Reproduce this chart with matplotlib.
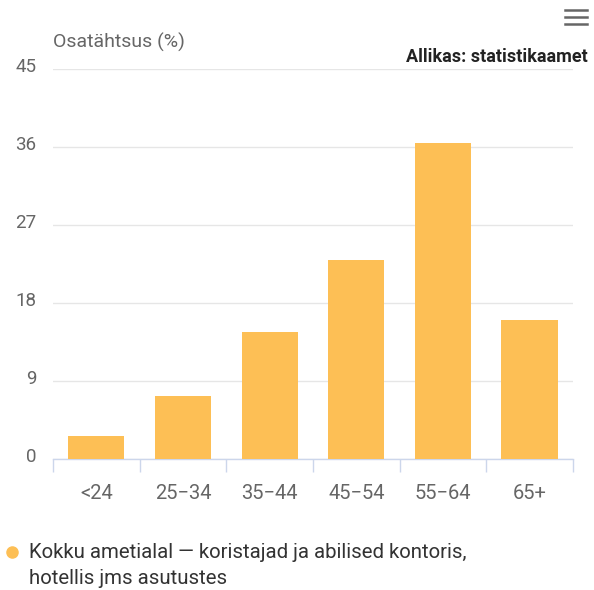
import matplotlib
matplotlib.use("Agg")
import matplotlib.pyplot as plt
from matplotlib.lines import Line2D
import matplotlib.transforms as mtransforms

plt.rcParams['font.family'] = ['Roboto', 'DejaVu Sans']

categories = ["<24", "25\u221234", "35\u221244", "45\u221254", "55\u221264", "65+"]
values = [2.65, 7.3, 14.6, 23.0, 36.5, 16.0]
yticks = [0, 9, 18, 27, 36, 45]

bar_color = "#FDBF55"
W, H = 594, 590
fig = plt.figure(figsize=(W/100, H/100), dpi=100)
ax = fig.add_axes([53/W, 1-459/H, (573-53)/W, (459-69)/H])

x = list(range(len(categories)))
ax.bar(x, values, width=0.65, color=bar_color, zorder=3)
ax.set_xlim(-0.5, len(categories)-0.5)
ax.set_ylim(0, 45)
ax.set_yticks(yticks)
ax.set_yticklabels([str(t) for t in yticks], fontsize=13.5, color="#666666")
ax.grid(axis="y", color="#e6e6e6", linewidth=1, zorder=0)
ax.tick_params(axis="y", length=0, pad=12)
offset = mtransforms.ScaledTranslation(0, 4/100, fig.dpi_scale_trans)
for lab in ax.get_yticklabels():
    lab.set_transform(lab.get_transform() + offset)

ax.set_xticks(x)
ax.set_xticklabels(categories, fontsize=14.5, color="#666666")
ax.tick_params(axis="x", which="major", length=0, pad=18)
ax.set_xticks([i-0.5 for i in range(len(categories)+1)], minor=True)
ax.tick_params(axis="x", which="minor", length=9, color="#ccd6eb", width=1)

for s in ["top", "right", "left"]:
    ax.spines[s].set_visible(False)
ax.spines["bottom"].set_color("#ccd6eb")
ax.spines["bottom"].set_linewidth(1)

fig.text(53/W, 1-42/H, "Osatähtsus (%)", fontsize=14, color="#666666", va="center", ha="left")
fig.text(588/W, 1-57/H, "Allikas: statistikaamet", fontsize=13, fontweight="bold", color="#222222", va="center", ha="right")

# hamburger icon
for yy in [10, 17, 24]:
    fig.add_artist(Line2D([565/W, 587/W], [1-yy/H, 1-yy/H], color="#666666", linewidth=1.8))

# legend
fig.add_artist(Line2D([12/W], [1-552/H], marker="o", markersize=8, color=bar_color, linestyle="none"))
fig.text(29/W, 1-553/H, "Kokku ametialal \u2014 koristajad ja abilised kontoris,", fontsize=14.7, color="#333333", va="center", ha="left")
fig.text(29/W, 1-579/H, "hotellis jms asutustes", fontsize=14.7, color="#333333", va="center", ha="left")

fig.savefig("out.png", dpi=100)
